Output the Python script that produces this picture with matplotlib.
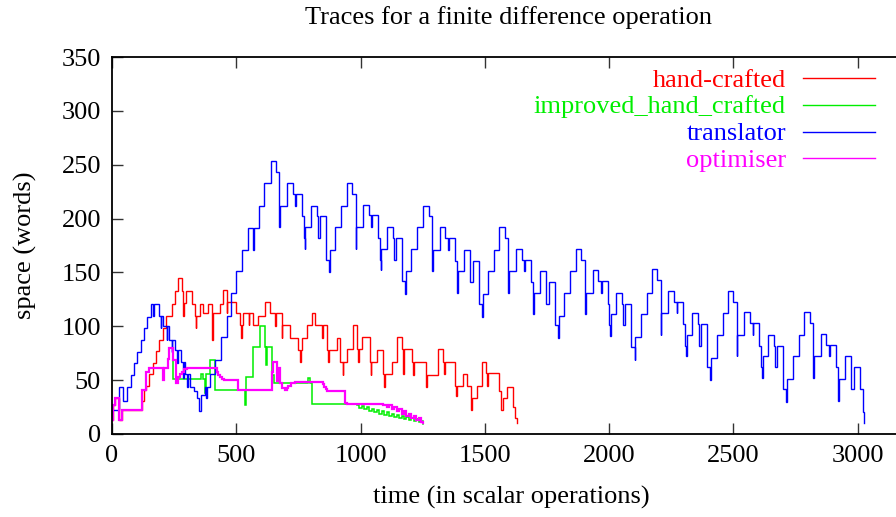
import matplotlib
matplotlib.use("Agg")
import matplotlib.pyplot as plt
from matplotlib.lines import Line2D

plt.rcParams['font.family'] = ['Liberation Serif', 'DejaVu Serif']

# ---- traces: time (scalar operations) / space (words), drawn as steps ----
hand_t = [0, 3, 12, 28, 39, 122, 130, 137, 150, 163, 177, 190, 204, 217, 240, 253, 267,
          280, 285, 288, 298, 320, 334, 337, 340, 354, 367, 387, 404, 407, 434, 448, 461,
          464, 501, 515, 521, 524, 528, 550, 553, 569, 589, 616, 636, 655, 658, 683, 686,
          716, 750, 756, 759, 763, 783, 803, 816, 845, 848, 864, 869, 872, 904, 917, 928,
          931, 944, 971, 985, 990, 993, 1005, 1038, 1041, 1044, 1065, 1092, 1095, 1099,
          1126, 1146, 1166, 1170, 1174, 1206, 1210, 1214, 1246, 1262, 1266, 1280, 1313,
          1333, 1337, 1341, 1360, 1382, 1385, 1390, 1414, 1427, 1445, 1448, 1468, 1488,
          1505, 1508, 1512, 1535, 1559, 1564, 1572, 1588, 1615, 1622, 1628]
hand_v = [13, 27, 33, 13, 22, 31, 41, 45, 56, 66, 77, 87, 98, 110, 121, 133, 145,
          133, 110, 122, 133, 121, 110, 98, 110, 121, 112, 121, 87, 112, 121, 134, 112,
          123, 112, 101, 89, 101, 112, 101, 112, 101, 110, 123, 112, 100, 112, 89, 101,
          89, 78, 67, 78, 89, 101, 112, 101, 89, 101, 78, 67, 78, 89, 67, 55,
          67, 79, 101, 79, 67, 79, 90, 67, 55, 67, 78, 56, 44, 56,
          67, 90, 79, 56, 79, 67, 55, 67, 67, 44, 55, 55, 79,
          67, 56, 67, 67, 45, 35, 45, 56, 45, 22, 33, 45, 67,
          57, 45, 57, 57, 40, 22, 33, 44, 25, 15, 10]

improved_t = [0, 3, 12, 28, 39, 122, 137, 150, 205, 210, 225, 231, 244, 360, 366, 374,
              377, 394, 416, 535, 538, 569, 595, 615, 620, 624, 642, 652, 790, 797, 804,
              985, 995, 1005, 1015, 1025, 1035, 1045, 1055, 1065, 1075, 1085, 1095, 1105,
              1115, 1125, 1135, 1145, 1155, 1165, 1175, 1185, 1195, 1205, 1215, 1225,
              1235, 1245, 1252]
improved_v = [13, 27, 33, 13, 22, 41, 58, 61, 50, 61, 70, 80, 51, 56, 51, 38,
              56, 69, 41, 27, 53, 81, 100, 81, 64, 81, 55, 47, 52, 47, 28,
              27, 24, 26, 23, 25, 21, 23, 20, 22, 19, 21, 18, 20,
              17, 19, 16, 18, 15, 17, 14, 16, 13, 15, 12, 14,
              11, 12, 9]

translator_t = [0, 28, 46, 59, 75, 89, 102, 115, 129, 142, 156, 165, 168, 190, 196, 199,
                207, 220, 223, 231, 240, 243, 253, 262, 265, 276, 285, 288, 294, 302, 305,
                314, 330, 343, 351, 357, 374, 380, 383, 394, 414, 437, 461, 479, 499, 522,
                546, 568, 571, 593, 613,
                638, 660, 674, 677, 705, 727, 738, 741, 765, 772, 775, 778, 801, 824, 827,
                837, 861, 874, 877, 899, 923,
                944, 966, 980, 983, 1011, 1033, 1044, 1047, 1071, 1078, 1081, 1084, 1107,
                1130, 1133, 1143, 1167, 1180, 1183, 1205, 1229,
                1253, 1275, 1289, 1292, 1320, 1342, 1353, 1356, 1380, 1387, 1390, 1393,
                1416, 1439, 1442, 1452, 1476, 1489, 1492, 1514, 1538,
                1559, 1581, 1595, 1598, 1626, 1648, 1659, 1662, 1686, 1693, 1696, 1699,
                1722, 1745, 1748, 1758, 1782, 1795, 1798, 1820, 1844,
                1867, 1889, 1903, 1906, 1934, 1956, 1967, 1970, 1994, 2001, 2004, 2007,
                2030, 2053, 2056, 2066, 2090, 2103, 2106, 2128, 2152,
                2172, 2194, 2208, 2211, 2239, 2261, 2272, 2275, 2299, 2306, 2309, 2312,
                2335, 2358, 2361, 2371, 2395, 2408, 2411, 2433, 2457,
                2478, 2500, 2514, 2517, 2545, 2567, 2578, 2581, 2605, 2612, 2615, 2618,
                2641, 2664, 2667, 2677, 2701, 2714, 2717, 2739, 2763,
                2786, 2808, 2822, 2825, 2853, 2875, 2886, 2889, 2913, 2920, 2923, 2926,
                2949, 2972, 2975, 2985, 3012, 3021, 3027]
translator_v = [22, 44, 31, 44, 55, 66, 76, 87, 98, 109, 121, 110, 121, 110, 98, 110,
                100, 87, 100, 87, 76, 87, 78, 66, 78, 67, 52, 67, 56, 44, 56,
                44, 40, 33, 21, 36, 44, 33, 44, 56, 69, 90, 110, 131, 151, 171,
                191, 171, 191, 212, 233,
                253, 243, 192, 212, 233, 223, 212, 223, 202, 182, 172, 192, 212, 202, 182,
                202, 162, 150, 171, 192, 212,
                233, 223, 172, 192, 213, 203, 192, 203, 182, 162, 152, 172, 192,
                182, 162, 182, 142, 130, 151, 172, 192,
                212, 202, 151, 171, 192, 182, 171, 182, 161, 141, 131, 151,
                171, 161, 141, 161, 121, 109, 130, 151, 171,
                192, 182, 131, 151, 172, 162, 151, 162, 141, 121, 111, 131,
                151, 141, 121, 141, 101, 89, 110, 131, 151,
                172, 162, 111, 131, 152, 142, 131, 142, 121, 101, 91, 111,
                131, 121, 101, 121, 81, 69, 90, 111, 131,
                153, 143, 92, 112, 133, 123, 112, 123, 102, 82, 72, 92,
                112, 102, 82, 102, 62, 50, 71, 92, 112,
                133, 123, 72, 92, 113, 103, 92, 103, 82, 62, 52, 72,
                92, 82, 62, 82, 42, 30, 51, 72, 92,
                113, 103, 52, 72, 93, 83, 72, 83, 62, 42, 31, 51,
                72, 62, 42, 62, 42, 20, 10]

optimiser_t = [0, 3, 12, 28, 39, 122, 137, 150, 205, 210, 225, 231, 244, 258, 265, 272,
               280, 290, 300, 421, 428, 435, 442, 450, 461, 508, 642, 649, 662, 669, 676,
               686, 696, 703, 710, 720, 736, 850, 855, 860, 865, 870, 937, 944, 1092,
               1105, 1115, 1125, 1135, 1145, 1155, 1165, 1175, 1185, 1195, 1205, 1215,
               1225, 1235, 1245, 1252]
optimiser_v = [13, 27, 33, 13, 22, 41, 58, 61, 50, 61, 70, 80, 69, 47, 53, 56,
               58, 60, 61, 58, 55, 53, 51, 50, 50, 41, 58, 67, 49, 61, 47,
               43, 41, 43, 45, 47, 48, 46, 44, 42, 40, 40, 29, 28, 27,
               25, 27, 23, 25, 21, 23, 19, 21, 17, 19, 15, 17,
               13, 15, 11, 10]

series = [
    ("hand-crafted", hand_t, hand_v, "#ff0000", 1.0),
    ("improved_hand_crafted", improved_t, improved_v, "#00ee00", 1.1),
    ("translator", translator_t, translator_v, "#0000ff", 1.0),
    ("optimiser", optimiser_t, optimiser_v, "#ff00ff", 1.6),
]

x_ticks = [0, 500, 1000, 1500, 2000, 2500, 3000]
y_ticks = [0, 50, 100, 150, 200, 250, 300, 350]

FS = 19
W, H = 896, 517
fig = plt.figure(figsize=(W / 100, H / 100), dpi=100)
# plot frame: x=0 at 112 px, 0.2485 px per operation; y from 434 px (0) to 57 px (350)
ax = fig.add_axes([112 / W, 1 - 434 / H, 3500 * 0.2485 / W, (434 - 57) / H])
ax.set_xlim(0, 3500)
ax.set_ylim(0, 350)

for name, t, v, col, lw in series:
    ax.step(t, v, where="post", color=col, lw=lw, solid_joinstyle="miter")

ax.set_xticks(x_ticks)
ax.set_yticks(y_ticks)
ax.tick_params(direction="in", length=8, width=1.0, color="#333333",
               top=True, right=True, labelsize=FS, pad=8)
for s in ax.spines.values():
    s.set_linewidth(1.3)

fig.text(508 / W, 1 - 18 / H, "Traces for a finite difference operation",
         ha="center", va="center", fontsize=FS)
fig.text(511 / W, 1 - 497 / H, "time (in scalar operations)",
         ha="center", va="center", fontsize=FS)
fig.text(25 / W, 1 - 245 / H, "space (words)", rotation=90,
         ha="center", va="center", fontsize=FS)

# key: right-aligned labels in the series colour with a short sample line
key_rows = [78.3, 105.0, 131.7, 158.3]
for (name, t, v, col, lw), yy in zip(series, key_rows):
    fig.text(786 / W, 1 - (yy + 8.5) / H, name, color=col, ha="right",
             va="baseline", fontsize=FS)
    fig.add_artist(Line2D([803 / W, 875 / W], [1 - yy / H, 1 - yy / H],
                          color=col, lw=1.0, transform=fig.transFigure))

fig.savefig("out.png", dpi=100)
